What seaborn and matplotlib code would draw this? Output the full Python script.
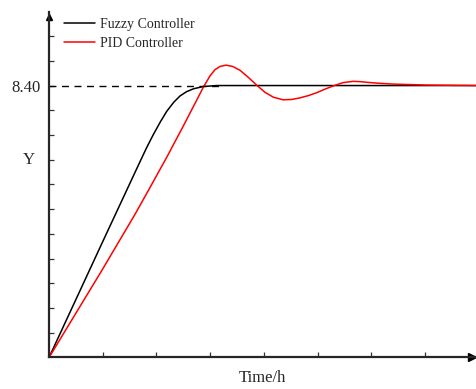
import numpy as np
import pandas as pd
import matplotlib
matplotlib.use('Agg')
import matplotlib.pyplot as plt
import seaborn as sns

# valores
setpoint = 8.40
setpoint_end = 3.2

t_fuzzy = [0, 1.0, 1.70, 1.82, 1.94, 2.07, 2.19, 2.32, 2.44, 2.56, 2.69, 2.87, 3.12, 3.5, 7.95]
y_fuzzy = [0, 3.58, 6.07, 6.49, 6.88, 7.27, 7.60, 7.88, 8.08, 8.21, 8.30, 8.37, 8.40, 8.40, 8.40]

t_pid = [0, 0.98, 1.60, 1.88, 2.19, 2.50, 2.75, 2.873, 2.998, 3.09, 3.184, 3.296,
         3.42, 3.557, 3.706, 3.868, 4.022, 4.177, 4.358, 4.52, 4.674, 4.83, 4.985,
         5.14, 5.294, 5.475, 5.661, 5.80, 5.916, 6.15, 6.406, 7.039, 7.95]
y_pid = [0, 2.68, 4.42, 5.25, 6.18, 7.15, 7.95, 8.35, 8.70, 8.89, 8.99, 9.03,
         8.99, 8.87, 8.66, 8.41, 8.19, 8.04, 7.96, 7.97, 8.02, 8.09, 8.18,
         8.29, 8.39, 8.49, 8.53, 8.52, 8.50, 8.47, 8.445, 8.415, 8.40]

y_step = setpoint / 11
y_tick_pos = [k * y_step for k in range(1, 14)]
y_tick_lab = ['8.40' if k == 11 else '' for k in range(1, 14)]
x_tick_pos = [1, 2, 3, 4, 5, 6, 7]

df = pd.concat([
    pd.DataFrame({'t': t_fuzzy, 'y': y_fuzzy, 'serie': 'Fuzzy Controller'}),
    pd.DataFrame({'t': t_pid, 'y': y_pid, 'serie': 'PID Controller'}),
])

sns.set_style('ticks')
plt.rcParams['font.family'] = ['Liberation Serif', 'DejaVu Serif']

fig = plt.figure(figsize=(4.76, 3.89), dpi=100)
ax = fig.add_axes([0.103, 0.0810, 0.897, 0.8880])

sns.lineplot(data=df, x='t', y='y', hue='serie', sort=False,
             palette={'Fuzzy Controller': 'black', 'PID Controller': 'red'},
             linewidth=1.1, ax=ax)
for ln in ax.get_lines():
    ln.set_solid_joinstyle('round')

ax.plot([0, setpoint_end], [setpoint, setpoint], color='black', lw=1.0,
        linestyle=(0, (5, 4)))

ax.set_xlim(0, 7.95)
ax.set_ylim(0, 10.67)
ax.set_xticks(x_tick_pos)
ax.set_xticklabels([])
ax.set_yticks(y_tick_pos)
ax.set_yticklabels(y_tick_lab, fontsize=12)
ax.tick_params(direction='in', length=3.5, width=0.9, color='#333333', pad=6)

for s in ['top', 'right']:
    ax.spines[s].set_visible(False)
for s in ['left', 'bottom']:
    ax.spines[s].set_linewidth(1.6)

# flechas de los ejes
ax.plot(0.99, 0, '>k', ms=6, transform=ax.transAxes, clip_on=False)
ax.plot(0, 0.985, '^k', ms=5, transform=ax.transAxes, clip_on=False)

ax.set_xlabel('Time/h', fontsize=12, labelpad=3)
ax.set_ylabel('Y', fontsize=12, rotation=0, va='center', ha='center')
ax.yaxis.set_label_coords(-0.047, (357.5 - 160) / 345.5, transform=ax.transAxes)

ax.legend(loc='upper left', bbox_to_anchor=(0.013, 1.012), frameon=False,
          fontsize=10, handlelength=2.2, handletextpad=0.4, labelspacing=0.45,
          borderpad=0.2)

fig.savefig('out.png', dpi=100)
